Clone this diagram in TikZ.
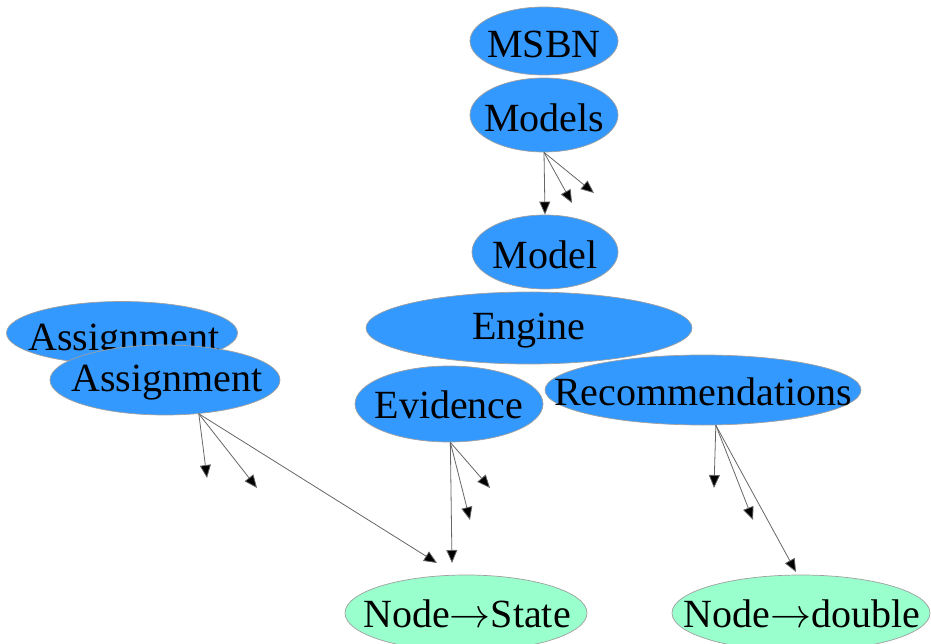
\documentclass[tikz,border=0pt]{standalone}
\usepackage{fontspec}
\usepackage{graphicx}
\setmainfont{Liberation Serif}
\usetikzlibrary{arrows.meta,shapes.geometric}
\definecolor{blobblue}{RGB}{51,153,255}
\definecolor{blobgreen}{RGB}{153,255,204}
\newcommand{\maparrow}{\resizebox{41pt}{!}{$\rightarrow$}}
\tikzset{
  blob/.style={ellipse, draw=gray!75, line width=0.7pt, fill=blobblue, inner sep=0pt},
  gblob/.style={blob, fill=blobgreen},
  lbl/.style={inner sep=0pt, font=\fontsize{40}{48}\selectfont, text=black},
  conn/.style={draw=gray!80!black, line width=0.8pt, -{Triangle[length=13pt,width=11pt,fill=black]}}
}
\begin{document}
\begin{tikzpicture}[x=1pt,y=-1pt]
\useasboundingbox (0,0) rectangle (931,644);
% ellipses
\node[blob, minimum width=148pt, minimum height=68pt] (msbn) at (544,41) {};
\node[lbl] at (544,44) {MSBN};
\node[blob, minimum width=148pt, minimum height=74pt] (models) at (544,115) {};
\node[lbl] at (544,118) {Models};
\node[blob, minimum width=146pt, minimum height=74pt] (model) at (545,252) {};
\node[lbl] at (545,255) {Model};
\node[blob, minimum width=326pt, minimum height=72pt] (engine) at (529,328) {};
\node[lbl] at (529,331) {Engine};
\node[blob, minimum width=188pt, minimum height=76pt] (evidence) at (449,404) {};
\node[lbl] at (449,405) {Evidence};
\node[blob, minimum width=316pt, minimum height=70pt] (rec) at (703,390) {};
\node[lbl] at (703,392) {Recommendations};
\node[blob, minimum width=231pt, minimum height=63pt] (assignA) at (122,333) {};
\node[lbl] at (124,342) {Assignment};
\node[blob, minimum width=230pt, minimum height=70pt] (assignB) at (165,380) {};
\node[lbl] at (167,383) {Assignment};
\node[gblob, minimum width=242pt, minimum height=76pt] (nstate) at (466,613) {};
\node[lbl] at (467,614) {Node\maparrow State};
\node[gblob, minimum width=258pt, minimum height=76pt] (ndouble) at (801,613) {};
\node[lbl] at (802,614) {Node\maparrow double};
% free ends
\coordinate (m1) at (572,203);
\coordinate (m2) at (594,193);
\coordinate (a1) at (207,478);
\coordinate (a2) at (257,488);
\coordinate (a3) at (437,563);
\coordinate (e1) at (452,563);
\coordinate (e2) at (470,520);
\coordinate (e3) at (490,488);
\coordinate (r1) at (714,488);
\coordinate (r2) at (753,520);
\coordinate (r3) at (796,572);
% connectors
\draw[conn] (models.south) -- (model.north);
\draw[conn] (models.south) -- (m1);
\draw[conn] (models.south) -- (m2);
\draw[conn] (assignB.-45) -- (a1);
\draw[conn] (assignB.-45) -- (a2);
\draw[conn] (assignB.-45) -- (a3);
\draw[conn] (evidence.-88) -- (e1);
\draw[conn] (evidence.-88) -- (e2);
\draw[conn] (evidence.-88) -- (e3);
\draw[conn] (rec.-70) -- (r1);
\draw[conn] (rec.-70) -- (r2);
\draw[conn] (rec.-70) -- (r3);
\end{tikzpicture}
\end{document}
